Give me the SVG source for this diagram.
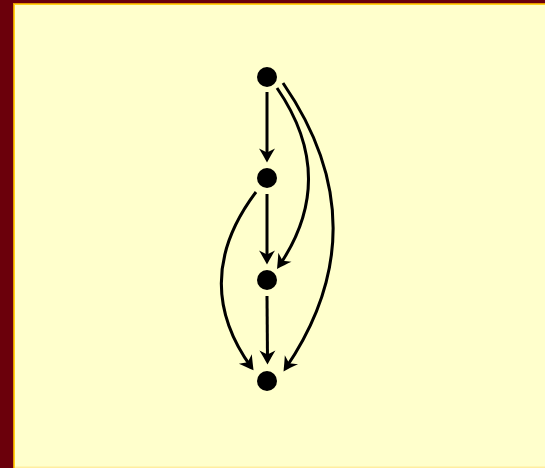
<svg xmlns="http://www.w3.org/2000/svg" width="545" height="468" viewBox="0 0 545 468">
<defs>
<marker id="arr" markerUnits="userSpaceOnUse" markerWidth="24" markerHeight="24" viewBox="-16 -12 24 24" refX="0" refY="0" orient="auto">
<path d="M3.5,0 C-1,-2.5 -6.5,-5.5 -10.5,-8 L-6.5,0 L-10.5,8 C-6.5,5.5 -1,2.5 3.5,0 Z" fill="#000"/>
</marker>
<style>
.e{fill:none;stroke:#000;stroke-width:3;marker-end:url(#arr)}
.n{fill:#000}
</style>
</defs>
<rect x="0" y="0" width="545" height="468" fill="#6b000b"/>
<rect x="13" y="3" width="540" height="470" fill="#e89a00"/>
<rect x="14" y="4" width="540" height="470" fill="#ffd21a"/>
<rect x="15" y="5" width="540" height="470" fill="#ffffcc"/>
<rect x="15" y="466.5" width="530" height="1.5" fill="#ffeea0"/>
<g id="connectors">
<path class="e" d="M267,92 L267,159"/>
<path class="e" d="M267,194 L267,261"/>
<path class="e" d="M267,296 L267.5,361"/>
<path class="e" d="M277,88 Q339,178 279,266"/>
<path class="e" d="M283,83 Q382,227 285.5,368.5"/>
<path class="e" d="M256,192 Q189,281 251.5,367.5"/>
</g>
<g id="n0"><circle class="n" cx="267" cy="77" r="10"/></g>
<g id="n1"><circle class="n" cx="267" cy="178" r="10"/></g>
<g id="n2"><circle class="n" cx="267" cy="280" r="10"/></g>
<g id="n3"><circle class="n" cx="267" cy="381" r="10"/></g>
</svg>
